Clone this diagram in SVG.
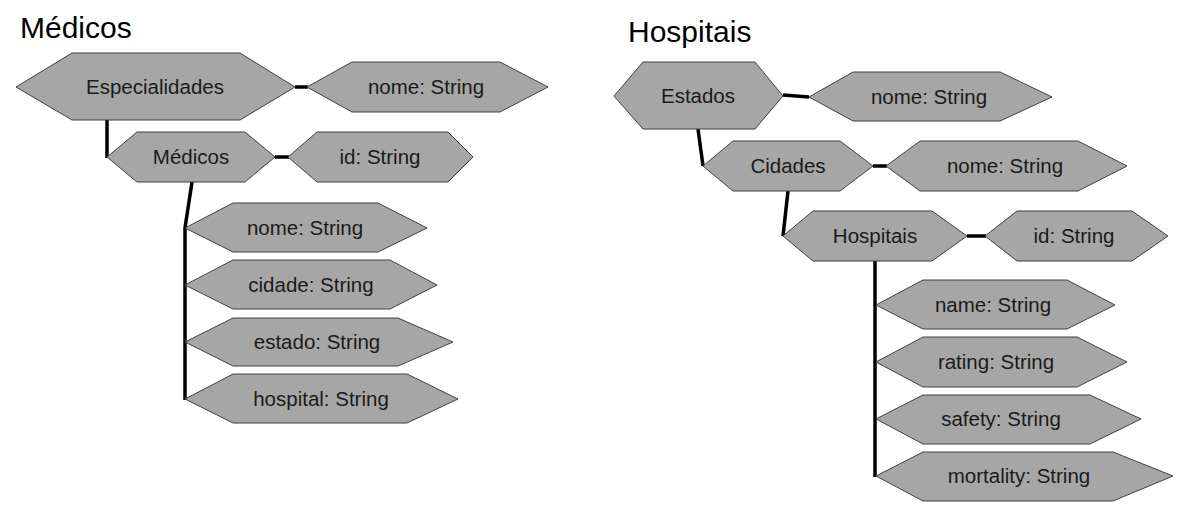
<svg xmlns="http://www.w3.org/2000/svg" width="1190" height="510" viewBox="0 0 1190 510">
<style>
.hex{fill:#a6a6a6;stroke:#404040;stroke-width:1}
.lbl{font-family:"Liberation Sans",Arial,sans-serif;font-size:20.5px;fill:#1a1a1a;text-anchor:middle}
.title{font-family:"Liberation Sans",Arial,sans-serif;font-size:30px;fill:#000}
.conn{stroke:#000;stroke-width:3.5;fill:none}
</style>
<rect width="1190" height="510" fill="#fff"/>
<text class="title" x="20" y="38">Médicos</text>
<text class="title" x="628" y="42">Hospitais</text>
<g id="connectors">
<line class="conn" x1="295" y1="87" x2="308" y2="87"/>
<line class="conn" x1="107" y1="120" x2="107" y2="158"/>
<line class="conn" x1="275" y1="157" x2="289" y2="157"/>
<polyline class="conn" points="192,182 185,228 185,400"/>
<line class="conn" x1="783" y1="95" x2="809" y2="97"/>
<line class="conn" x1="698" y1="129" x2="703" y2="166"/>
<line class="conn" x1="873" y1="166" x2="887" y2="166"/>
<line class="conn" x1="788" y1="191" x2="783" y2="236"/>
<line class="conn" x1="967" y1="236" x2="986" y2="236"/>
<line class="conn" x1="875" y1="261" x2="875" y2="477"/>
</g>
<g id="especialidades"><polygon class="hex" points="16,87 72,53 240,53 295,87 240,120 72,120"/><text class="lbl" x="155" y="94">Especialidades</text></g>
<g id="esp-nome"><polygon class="hex" points="307,87 352,62 500,62 548,87 500,112 352,112"/><text class="lbl" x="426" y="94">nome: String</text></g>
<g id="medicos"><polygon class="hex" points="107,157 137,132 245,132 275,157 245,182 137,182"/><text class="lbl" x="191" y="164">Médicos</text></g>
<g id="med-id"><polygon class="hex" points="288,157 317,132 448,132 473,157 448,182 317,182"/><text class="lbl" x="380" y="164">id: String</text></g>
<g id="med-nome"><polygon class="hex" points="185,228 233,203 378,203 427,228 378,252 233,252"/><text class="lbl" x="305" y="235">nome: String</text></g>
<g id="med-cidade"><polygon class="hex" points="185,285 233,260 390,260 437,285 390,309 233,309"/><text class="lbl" x="311" y="292">cidade: String</text></g>
<g id="med-estado"><polygon class="hex" points="185,342 233,318 398,318 453,342 398,366 233,366"/><text class="lbl" x="317" y="349">estado: String</text></g>
<g id="med-hospital"><polygon class="hex" points="185,399 233,374 407,374 458,399 407,423 233,423"/><text class="lbl" x="321" y="406">hospital: String</text></g>
<g id="estados"><polygon class="hex" points="614,96 643,62 755,62 783,96 755,129 643,129"/><text class="lbl" x="698" y="103">Estados</text></g>
<g id="est-nome"><polygon class="hex" points="809,97 853,72 1000,72 1052,97 1000,121 853,121"/><text class="lbl" x="929" y="104">nome: String</text></g>
<g id="cidades"><polygon class="hex" points="703,166 733,141 840,141 873,166 840,191 733,191"/><text class="lbl" x="788" y="173">Cidades</text></g>
<g id="cid-nome"><polygon class="hex" points="886,166 920,141 1078,141 1127,166 1078,191 920,191"/><text class="lbl" x="1005" y="173">nome: String</text></g>
<g id="hospitais"><polygon class="hex" points="783,236 813,211 932,211 967,236 932,261 813,261"/><text class="lbl" x="875" y="243">Hospitais</text></g>
<g id="hos-id"><polygon class="hex" points="985,236 1017,211 1132,211 1168,236 1132,261 1017,261"/><text class="lbl" x="1074" y="243">id: String</text></g>
<g id="hos-name"><polygon class="hex" points="876,305 923,280 1067,280 1115,305 1067,329 923,329"/><text class="lbl" x="993" y="312">name: String</text></g>
<g id="hos-rating"><polygon class="hex" points="876,362 923,337 1077,337 1127,362 1077,387 923,387"/><text class="lbl" x="996" y="369">rating: String</text></g>
<g id="hos-safety"><polygon class="hex" points="876,419 923,395 1090,395 1141,419 1090,444 923,444"/><text class="lbl" x="1001" y="426">safety: String</text></g>
<g id="hos-mortality"><polygon class="hex" points="876,476 923,452 1113,452 1173,476 1113,501 923,501"/><text class="lbl" x="1019" y="483">mortality: String</text></g>
</svg>
